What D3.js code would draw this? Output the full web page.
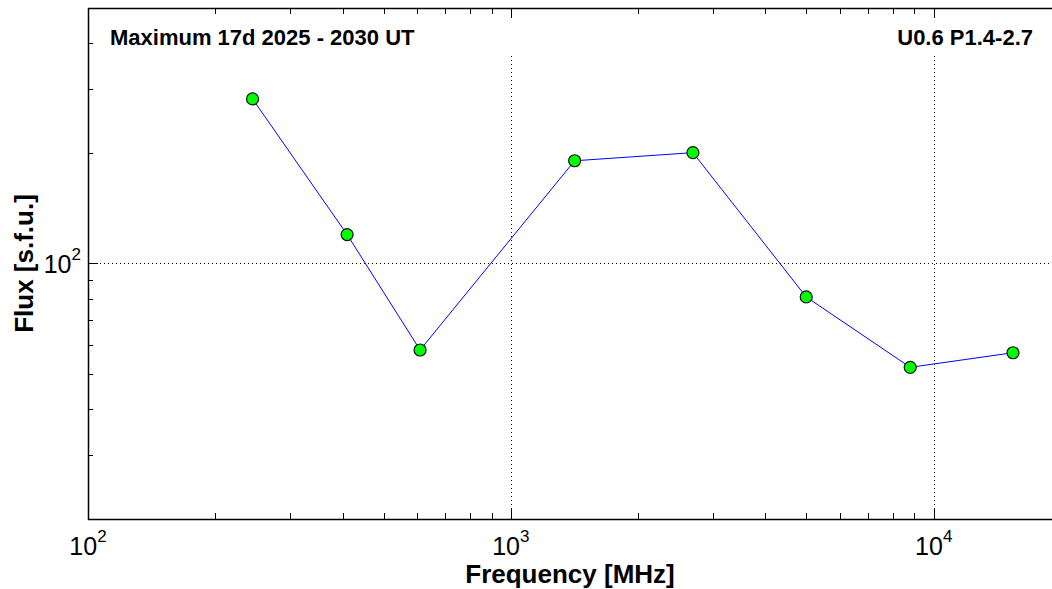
<!DOCTYPE html>
<html>
<head>
<meta charset="utf-8">
<script src="https://cdn.jsdelivr.net/npm/d3@7/dist/d3.min.js"></script>
<style>
  html, body { margin: 0; padding: 0; background: #fff; }
  svg { display: block; font-family: "Liberation Sans", Arial, sans-serif; }
</style>
</head>
<body>
<svg id="chart" width="1052" height="589"></svg>
<script>
// RSTN observing frequencies (MHz) and peak flux (s.f.u.)
const frequencies = [245, 410, 610, 1415, 2695, 4995, 8800, 15400];
const fluxes = [282, 120, 58, 191, 201, 81, 52, 57];

const xDomain = [100, 20000];
const yDomain = [20, 500];
const xDecades = [100, 1000, 10000];
const yDecades = [100];

const titleLeft = "Maximum 17d 2025 - 2030 UT";
const titleRight = "U0.6 P1.4-2.7";
const xLabel = "Frequency [MHz]";
const yLabel = "Flux [s.f.u.]";

const svg = d3.select("#chart");
const W = 1052, H = 589;
const m = { left: 88, top: 8, right: 1061, bottom: 519 };

const x = d3.scaleLog().domain(xDomain).range([m.left, m.right]);
const y = d3.scaleLog().domain(yDomain).range([m.bottom, m.top]);

const plot = svg.append("g");

// dotted grid at decades
plot.selectAll(".gx").data(xDecades.filter(d => d > xDomain[0]))
  .join("line")
  .attr("x1", d => Math.round(x(d)) + 0.5).attr("x2", d => Math.round(x(d)) + 0.5)
  .attr("y1", m.top).attr("y2", m.bottom)
  .attr("stroke", "#000").attr("stroke-width", 1).attr("stroke-dasharray", "1,3");
plot.selectAll(".gy").data(yDecades)
  .join("line")
  .attr("x1", m.left).attr("x2", m.right)
  .attr("y1", d => Math.round(y(d)) + 0.5).attr("y2", d => Math.round(y(d)) + 0.5)
  .attr("stroke", "#000").attr("stroke-width", 1).attr("stroke-dasharray", "1,3");

// white band behind the header texts
plot.append("rect")
  .attr("x", m.left + 11).attr("y", m.top + 11)
  .attr("width", W - m.left - 11).attr("height", 35)
  .attr("fill", "#fff");

// ticks (inward): bottom, top, left
const xt = x.ticks();
const yt = y.ticks();
const isMajor = d => Math.abs(Math.log10(d) - Math.round(Math.log10(d))) < 1e-9;

const tickG = svg.append("g").attr("stroke", "#000").attr("stroke-width", 1);
tickG.selectAll(".tb").data(xt).join("line")
  .attr("x1", d => Math.round(x(d)) + 0.5).attr("x2", d => Math.round(x(d)) + 0.5)
  .attr("y1", m.bottom).attr("y2", d => m.bottom - (isMajor(d) ? 10 : 6));
tickG.selectAll(".tt").data(xt).join("line")
  .attr("x1", d => Math.round(x(d)) + 0.5).attr("x2", d => Math.round(x(d)) + 0.5)
  .attr("y1", m.top).attr("y2", d => m.top + (isMajor(d) ? 10 : 6));
tickG.selectAll(".tl").data(yt).join("line")
  .attr("y1", d => Math.round(y(d)) + 0.5).attr("y2", d => Math.round(y(d)) + 0.5)
  .attr("x1", m.left).attr("x2", d => m.left + (isMajor(d) ? 10 : 5));

// frame
svg.append("line").attr("x1", m.left + 0.5).attr("x2", m.left + 0.5)
  .attr("y1", m.top).attr("y2", m.bottom + 1).attr("stroke", "#000").attr("stroke-width", 1.5);
svg.append("line").attr("x1", m.left).attr("x2", W)
  .attr("y1", m.bottom + 0.5).attr("y2", m.bottom + 0.5).attr("stroke", "#000").attr("stroke-width", 1.5);
svg.append("line").attr("x1", m.left).attr("x2", W)
  .attr("y1", m.top + 0.5).attr("y2", m.top + 0.5).attr("stroke", "#000").attr("stroke-width", 1.5);

// x tick labels (10^n)
const xl = svg.selectAll(".xl").data(xt.filter(isMajor)).join("text")
  .attr("x", d => x(d)).attr("y", 555)
  .attr("text-anchor", "middle").attr("font-size", 25).attr("fill", "#000");
xl.append("tspan").text("10");
xl.append("tspan").attr("dy", -13).attr("font-size", 17).text(d => Math.round(Math.log10(d)));

// y tick labels
const yl = svg.selectAll(".yl").data(yt.filter(isMajor)).join("text")
  .attr("x", 81).attr("y", d => y(d) + 9)
  .attr("text-anchor", "end").attr("font-size", 25).attr("fill", "#000");
yl.append("tspan").text("10");
yl.append("tspan").attr("dy", -13).attr("font-size", 17).text(d => Math.round(Math.log10(d)));

// axis titles
svg.append("text").attr("x", 570).attr("y", 583)
  .attr("text-anchor", "middle").attr("font-size", 26).attr("font-weight", "bold")
  .text(xLabel);
svg.append("text").attr("transform", `translate(33,${y(100)}) rotate(-90)`)
  .attr("text-anchor", "middle").attr("font-size", 26).attr("font-weight", "bold")
  .text(yLabel);

// header texts
svg.append("text").attr("x", 110).attr("y", 45)
  .attr("font-size", 22).attr("font-weight", "bold").text(titleLeft);
svg.append("text").attr("x", 1033).attr("y", 45).attr("text-anchor", "end")
  .attr("font-size", 22).attr("font-weight", "bold").text(titleRight);

// spectrum
const pts = frequencies.map((f, i) => [f, fluxes[i]]);
svg.append("path").datum(pts)
  .attr("d", d3.line().x(d => x(d[0])).y(d => y(d[1])))
  .attr("fill", "none").attr("stroke", "#0000ff").attr("stroke-width", 1);
svg.selectAll(".pt").data(pts).join("circle")
  .attr("cx", d => x(d[0])).attr("cy", d => y(d[1])).attr("r", 6)
  .attr("fill", "#00ff00").attr("stroke", "#111").attr("stroke-width", 1.2);
</script>
</body>
</html>
